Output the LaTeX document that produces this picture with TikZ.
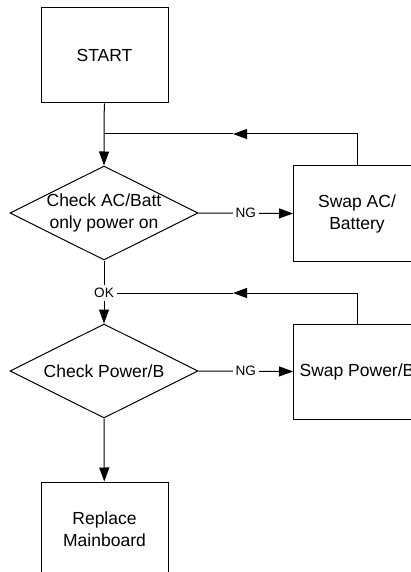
\documentclass[tikz,border=0pt]{standalone}
\usepackage{fontspec}
\setmainfont{Liberation Sans}
\usetikzlibrary{arrows.meta,shapes.geometric}

\begin{document}
\begin{tikzpicture}[x=0.5pt,y=-0.5pt,>={Triangle[length=7pt,width=5pt]},line width=0.5pt,
  box/.style={draw,minimum width=63.5pt,minimum height=47.5pt,inner sep=0pt,align=center,font=\fontsize{8.75}{11}\selectfont},
  decision/.style={draw,diamond,minimum width=94pt,minimum height=47pt,inner sep=0pt},
  dtext/.style={align=center,inner sep=0pt,font=\fontsize{8.75}{11}\selectfont},
  tag/.style={fill=white,inner sep=1.5pt,font=\fontsize{6.8}{8}\selectfont}]
\useasboundingbox (0,0) rectangle (411,572);
\clip (0,0) rectangle (411,572);
\node[box] (start) at (104.5,55.5) {START};
\node[decision] (chkac) at (104,213) {};
\node[dtext] (chkac-t) at (chkac) {Check AC/Batt\\only power on};
\node[box] (swapac) at (357,213.5) {Swap AC/\\Battery};
\node[tag] (ok) at (104,293) {OK};
\node[decision] (chkpb) at (104,371) {};
\node[dtext] (chkpb-t) at (chkpb) {Check Power/B};
\node[box] (swappb) at (357,371.5) {Swap Power/B};
\node[box] (mb) at (104.5,529.5) {Replace\\Mainboard};
\coordinate (j1) at (104,134);
\coordinate (a1) at (233,134);
\coordinate (a2) at (233,293);
% main path
\draw[->] (start) -- (chkac.north);
\draw[->] (chkac.east) -- node[tag] (ng1) {NG} (swapac.west);
\draw (chkac.south) -- (ok);
\draw[->] (ok) -- (chkpb.north);
\draw[->] (chkpb.east) -- node[tag] (ng2) {NG} (swappb.west);
\draw[->] (chkpb.south) -- (mb);
% loops back
\draw[->] (swapac.north) |- (a1);
\draw (a1) -- (j1);
\draw[->] (swappb.north) |- (a2);
\draw (a2) -- (ok.east);
\end{tikzpicture}
\end{document}
